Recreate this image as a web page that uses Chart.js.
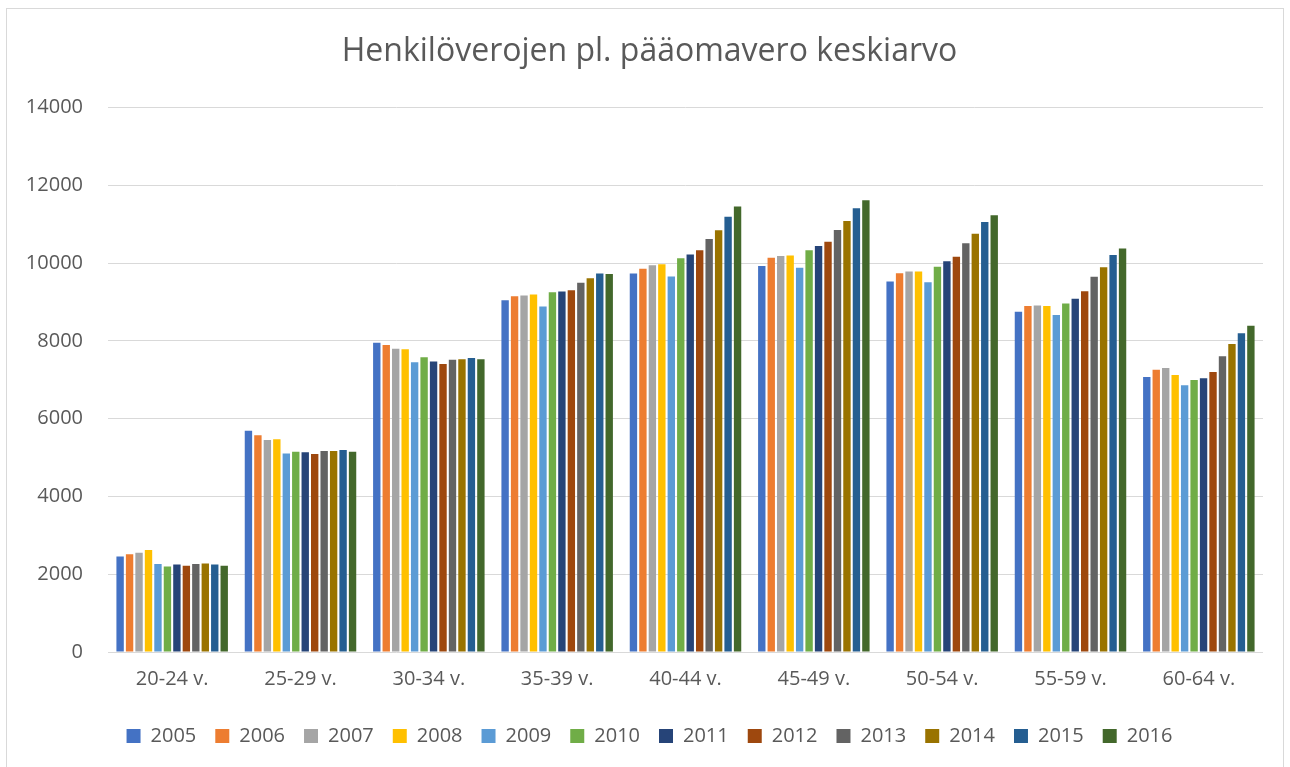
<!DOCTYPE html>
<html>
<head>
<meta charset="utf-8">
<script src="https://cdn.jsdelivr.net/npm/chart.js@4/dist/chart.umd.min.js"></script>
<style>
  html, body { margin: 0; padding: 0; background: #fff; }
  body { width: 1290px; height: 767px; position: relative; overflow: hidden; }
  #frame { position: absolute; left: 6px; top: 8px; width: 1278px; height: 780px; border: 1px solid #d9d9d9; box-sizing: border-box; }
  #wrap { position: absolute; left: 0; top: 0; width: 1290px; height: 767px; }
</style>
</head>
<body>
<div id="frame"></div>
<div id="wrap"><canvas id="chart"></canvas></div>
<script>
  // Data
  const ageGroups = ['20-24 v.', '25-29 v.', '30-34 v.', '35-39 v.', '40-44 v.', '45-49 v.', '50-54 v.', '55-59 v.', '60-64 v.'];
  const years = ['2005', '2006', '2007', '2008', '2009', '2010', '2011', '2012', '2013', '2014', '2015', '2016'];

  const v2005 = [2455, 5690, 7950, 9040, 9730, 9925, 9525, 8750, 7070];
  const v2006 = [2510, 5575, 7890, 9145, 9850, 10135, 9735, 8895, 7255];
  const v2007 = [2550, 5450, 7795, 9165, 9940, 10180, 9780, 8910, 7300];
  const v2008 = [2620, 5470, 7785, 9190, 9965, 10190, 9780, 8895, 7120];
  const v2009 = [2265, 5100, 7450, 8880, 9650, 9880, 9505, 8665, 6855];
  const v2010 = [2200, 5145, 7580, 9250, 10120, 10325, 9905, 8960, 6990];
  const v2011 = [2250, 5135, 7465, 9265, 10220, 10435, 10045, 9080, 7035];
  const v2012 = [2215, 5090, 7405, 9300, 10330, 10545, 10160, 9275, 7195];
  const v2013 = [2260, 5170, 7515, 9490, 10620, 10850, 10510, 9645, 7600];
  const v2014 = [2275, 5170, 7525, 9610, 10840, 11080, 10750, 9890, 7915];
  const v2015 = [2250, 5195, 7560, 9730, 11190, 11410, 11055, 10205, 8195];
  const v2016 = [2215, 5145, 7525, 9720, 11455, 11610, 11225, 10375, 8385];

  const seriesValues = [v2005, v2006, v2007, v2008, v2009, v2010, v2011, v2012, v2013, v2014, v2015, v2016];
  const colors = ['#4472C4', '#ED7D31', '#A5A5A5', '#FFC000', '#5B9BD5', '#70AD47',
                  '#264478', '#9E480E', '#636363', '#997300', '#255E91', '#43682B'];

  const yTicks = [0, 2000, 4000, 6000, 8000, 10000, 12000, 14000];

  const textColor = '#595959';
  const gridColor = '#d9d9d9';
  const fontFamily = '"Open Sans", "Liberation Sans", sans-serif';

  const datasets = years.map((y, i) => ({
    label: y,
    data: seriesValues[i],
    backgroundColor: colors[i],
    borderWidth: 0,
    categoryPercentage: 0.885,
    barPercentage: 0.78,
    yAxisID: 'y',
  }));

  const ctx = document.getElementById('chart').getContext('2d');
  new Chart(ctx, {
    type: 'bar',
    data: { labels: ageGroups, datasets: datasets },
    options: {
      responsive: true,
      maintainAspectRatio: false,
      animation: false,
      layout: { padding: { left: 20, right: 11, top: 0, bottom: 11 } },
      plugins: {
        title: {
          display: true,
          text: 'Henkilöverojen pl. pääomavero keskiarvo',
          color: textColor,
          font: { family: fontFamily, size: 32, weight: '400' },
          padding: { top: 33, bottom: 36 },
        },
        legend: {
          position: 'bottom',
          labels: {
            color: textColor,
            font: { family: fontFamily, size: 20 },
            boxWidth: 14,
            boxHeight: 14,
            padding: 19,
          },
        },
        tooltip: { enabled: false },
      },
      scales: {
        x: {
          grid: { display: false, drawTicks: false },
          border: { display: false },
          ticks: { color: textColor, font: { family: fontFamily, size: 20 }, padding: 15.5 },
        },
        y: {
          position: 'left',
          min: 0,
          max: 14000,
          afterBuildTicks: (axis) => { axis.ticks = yTicks.map(v => ({ value: v })); },
          afterFit: (axis) => { axis.width = 88; },
          grid: { color: gridColor, lineWidth: 1, drawTicks: false },
          border: { display: false },
          ticks: {
            color: textColor,
            font: { family: fontFamily, size: 20 },
            padding: 25,
            callback: (v) => String(v),
          },
        },
        // empty spacer on the right so the plot ends where the reference does
        yRight: {
          position: 'right',
          afterFit: (axis) => { axis.width = 16; },
          grid: { display: false },
          border: { display: false },
          ticks: { display: false },
        },
      },
    },
  });
</script>
</body>
</html>
